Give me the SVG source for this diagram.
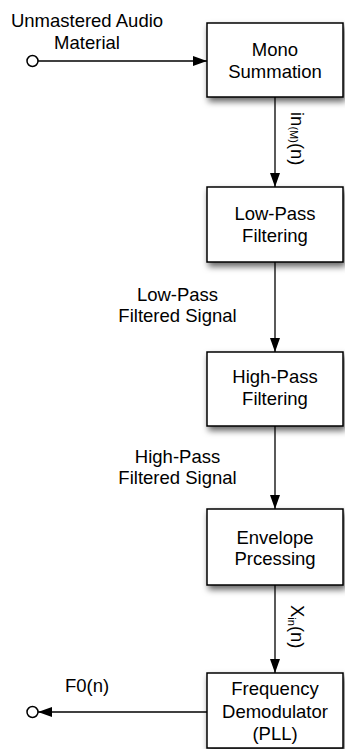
<svg xmlns="http://www.w3.org/2000/svg" width="345" height="749" viewBox="0 0 345 749">
<style>
text{font-family:"Liberation Sans",Arial,Helvetica,sans-serif;font-size:18.5px;fill:#000;}
.c{text-anchor:middle;}
.box{fill:#fff;stroke:#000;stroke-width:1.5;filter:url(#sh);}
.ln{stroke:#000;stroke-width:1.3;fill:none;}
.port{fill:#fff;stroke:#000;stroke-width:1.5;}
</style>
<defs>
<filter id="sh" x="-20%" y="-20%" width="140%" height="150%">
<feDropShadow dx="2" dy="4" stdDeviation="3" flood-color="#000" flood-opacity="0.6"/>
</filter>
<marker id="ah" markerWidth="14" markerHeight="10" refX="14" refY="5" orient="auto" markerUnits="userSpaceOnUse">
<path d="M0,0 L14,5 L0,10 z" fill="#000"/>
</marker>
</defs>

<g id="connectors">
<line class="ln" x1="38" y1="61" x2="207" y2="61" marker-end="url(#ah)"/>
<line class="ln" x1="275" y1="97" x2="275" y2="187" marker-end="url(#ah)"/>
<line class="ln" x1="275" y1="262" x2="275" y2="352" marker-end="url(#ah)"/>
<line class="ln" x1="275" y1="426" x2="275" y2="509" marker-end="url(#ah)"/>
<line class="ln" x1="275" y1="585" x2="275" y2="673" marker-end="url(#ah)"/>
<line class="ln" x1="207" y1="712" x2="38" y2="712" marker-end="url(#ah)"/>
<text transform="translate(291,112) rotate(90)">in<tspan font-size="11" dy="1">(M)</tspan><tspan dy="-1">(n)</tspan></text>
<text class="c" x="177.5" y="300.5">Low-Pass</text>
<text class="c" x="177.5" y="321.5">Filtered Signal</text>
<text class="c" x="177.5" y="463">High-Pass</text>
<text class="c" x="177.5" y="484">Filtered Signal</text>
<text transform="translate(291,605) rotate(90)">X<tspan font-size="11" dy="3">in</tspan><tspan dy="-3">(n)</tspan></text>
</g>

<g id="input">
<circle class="port" cx="32.5" cy="61" r="5.5"/>
<text class="c" x="87" y="27">Unmastered Audio</text>
<text class="c" x="87" y="48.5">Material</text>
</g>

<g id="mono">
<rect class="box" x="207" y="23" width="136" height="74"/>
<text class="c" x="275" y="56">Mono</text>
<text class="c" x="275" y="77.5">Summation</text>
</g>

<g id="lowpass">
<rect class="box" x="207" y="187" width="136" height="75"/>
<text class="c" x="275" y="219.5">Low-Pass</text>
<text class="c" x="275" y="241.5">Filtering</text>
</g>

<g id="highpass">
<rect class="box" x="207" y="352" width="136" height="74"/>
<text class="c" x="275" y="383">High-Pass</text>
<text class="c" x="275" y="404.5">Filtering</text>
</g>

<g id="envelope">
<rect class="box" x="207" y="509" width="136" height="76"/>
<text class="c" x="275" y="543.5">Envelope</text>
<text class="c" x="275" y="565">Prcessing</text>
</g>

<g id="pll">
<rect class="box" x="207" y="673" width="136" height="75"/>
<text class="c" x="275" y="695">Frequency</text>
<text class="c" x="275" y="717.5">Demodulator</text>
<text class="c" x="275" y="740">(PLL)</text>
</g>

<g id="output">
<circle class="port" cx="32.5" cy="712" r="5.5"/>
<text class="c" x="87" y="691.5">F0(n)</text>
</g>
</svg>
